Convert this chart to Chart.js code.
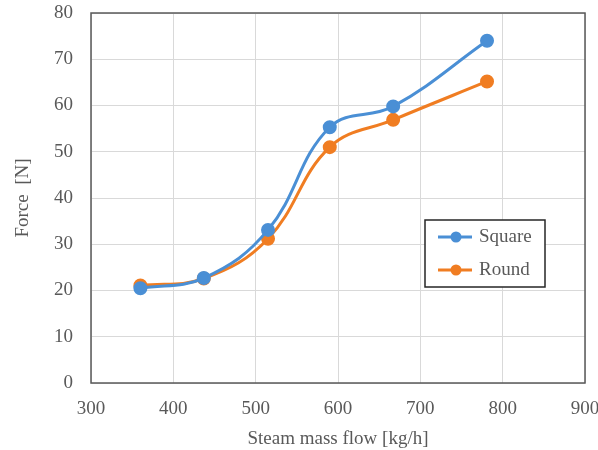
<!DOCTYPE html>
<html>
<head>
<meta charset="utf-8">
<script src="https://cdn.jsdelivr.net/npm/chart.js@4/dist/chart.umd.min.js"></script>
<style>
  html, body { margin: 0; padding: 0; background: #fff; }
  #wrap { width: 598px; height: 450px; }
</style>
</head>
<body>
<div id="wrap"><canvas id="forceChart" width="598" height="450"></canvas></div>
<script>
// steam mass flow [kg/h] at each measurement
var massFlow = [360, 437, 515, 590, 667, 781];
var squareForce = [20.5, 22.7, 33.1, 55.3, 59.8, 74.0];
var roundForce = [21.1, 22.6, 31.2, 51.0, 56.9, 65.2];
var seriesNames = ["Square", "Round"];
var xTicks = [300, 400, 500, 600, 700, 800, 900];
var yTicks = [0, 10, 20, 30, 40, 50, 60, 70, 80];

var textColor = "#595959";
var serif = "'Liberation Serif', 'Times New Roman', serif";

function pairs(xs, ys) {
    return xs.map(function (x, i) { return {x: x, y: ys[i]}; });
}

// frame around the plot area + legend box inside it, like the Excel original
var frameAndLegend = {
    id: 'frameAndLegend',
    afterDatasetsDraw: function (chart) {
        var ctx = chart.ctx;
        var a = chart.chartArea;
        ctx.save();
        ctx.strokeStyle = "#595959";
        ctx.lineWidth = 1.5;
        ctx.strokeRect(a.left, a.top, a.right - a.left, a.bottom - a.top);

        var bx = 425, by = 220, bw = 120, bh = 67;
        ctx.fillStyle = "#fff";
        ctx.fillRect(bx, by, bw, bh);
        ctx.strokeStyle = "#262626";
        ctx.lineWidth = 1.5;
        ctx.strokeRect(bx, by, bw, bh);

        ctx.font = "19px " + serif;
        ctx.textBaseline = "middle";
        chart.data.datasets.forEach(function (ds, i) {
            var ly = by + 17 + i * 33;
            ctx.strokeStyle = ds.borderColor;
            ctx.lineWidth = 3;
            ctx.beginPath();
            ctx.moveTo(bx + 13, ly);
            ctx.lineTo(bx + 47, ly);
            ctx.stroke();
            ctx.fillStyle = ds.backgroundColor;
            ctx.beginPath();
            ctx.arc(bx + 31, ly, 5.5, 0, Math.PI * 2);
            ctx.fill();
            ctx.fillStyle = textColor;
            ctx.fillText(ds.label, bx + 54, ly);
        });
        ctx.restore();
    }
};

var forceChart = new Chart(document.getElementById("forceChart"), {
    type: 'line',
    data: {
        datasets: [
            {
                label: seriesNames[0],
                data: pairs(massFlow, squareForce),
                borderColor: "#4a8fd5",
                backgroundColor: "#4a8fd5",
                borderWidth: 3,
                pointRadius: 5.5,
                tension: 0.4
            },
            {
                label: seriesNames[1],
                data: pairs(massFlow, roundForce),
                borderColor: "#f07d22",
                backgroundColor: "#f07d22",
                borderWidth: 3,
                pointRadius: 5.5,
                tension: 0.4
            }
        ]
    },
    options: {
        responsive: false,
        animation: false,
        events: [],
        layout: {
            padding: {top: 13, right: 13, left: 0, bottom: 0}
        },
        plugins: {
            legend: { display: false },
            tooltip: { enabled: false }
        },
        scales: {
            x: {
                type: 'linear',
                min: xTicks[0],
                max: xTicks[xTicks.length - 1],
                afterBuildTicks: function (axis) {
                    axis.ticks = xTicks.map(function (v) { return {value: v}; });
                },
                afterFit: function (axis) {
                    axis.height = 67;
                    axis.paddingLeft = 0;
                    axis.paddingRight = 0;
                },
                grid: { color: "#d9d9d9", lineWidth: 1, drawTicks: false },
                border: { display: false },
                ticks: {
                    padding: 15,
                    color: textColor,
                    font: { family: serif, size: 19 },
                    maxRotation: 0
                },
                title: {
                    display: true,
                    text: "Steam mass flow [kg/h]",
                    color: textColor,
                    font: { family: serif, size: 19 },
                    padding: {top: 0, bottom: 0}
                }
            },
            y: {
                min: yTicks[0],
                max: yTicks[yTicks.length - 1],
                afterBuildTicks: function (axis) {
                    axis.ticks = yTicks.map(function (v) { return {value: v}; });
                },
                afterFit: function (axis) {
                    axis.width = 91;
                    axis.paddingTop = 0;
                    axis.paddingBottom = 0;
                },
                grid: { color: "#d9d9d9", lineWidth: 1, drawTicks: false },
                border: { display: false },
                ticks: {
                    padding: 18,
                    color: textColor,
                    font: { family: serif, size: 19 }
                },
                title: {
                    display: true,
                    text: "Force  [N]",
                    color: textColor,
                    font: { family: serif, size: 19 },
                    padding: {top: 12, bottom: 0}
                }
            }
        }
    },
    plugins: [frameAndLegend]
});
</script>
</body>
</html>
